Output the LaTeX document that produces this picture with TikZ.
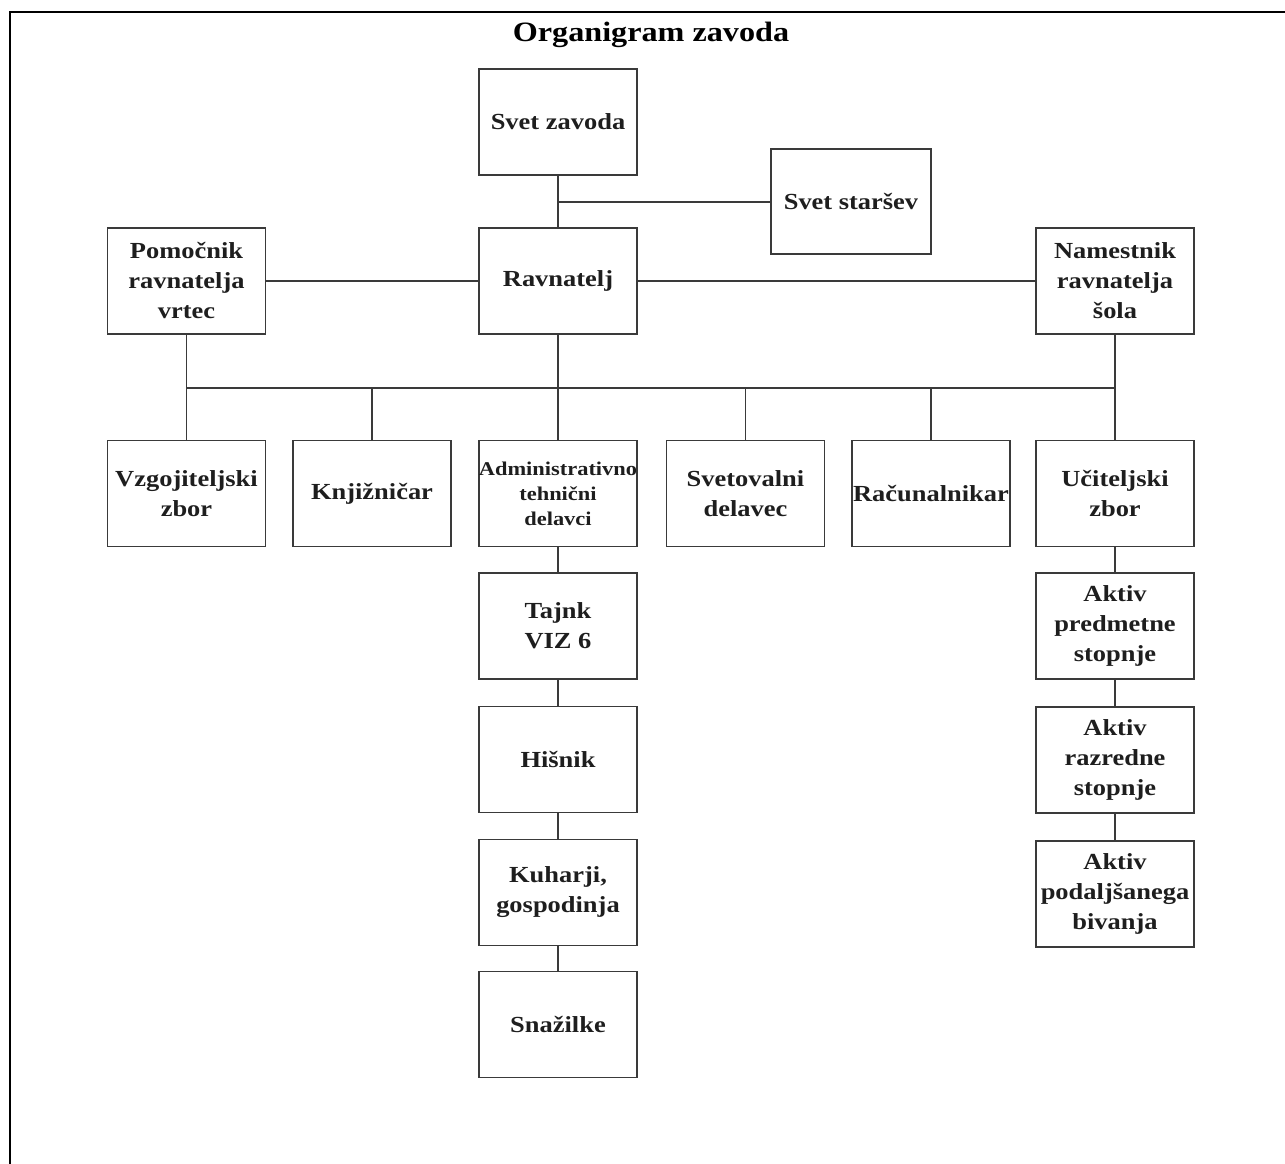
\documentclass[tikz,border=0pt]{standalone}
\usepackage{fontspec}
\setmainfont{Liberation Serif}[FakeStretch=1.15]
\definecolor{linec}{HTML}{3A3A3A}
\definecolor{textc}{HTML}{1E1E1E}
\tikzset{
  orgbox/.style={draw=linec, line width=1.6pt, minimum width=158pt, minimum height=106pt,
    inner sep=0pt, align=center, text=textc,
    font=\fontsize{23}{30}\selectfont\bfseries},
  smalltext/.style={font=\fontsize{19.5}{25}\selectfont\bfseries},
  conn/.style={draw=linec, line width=1.4pt},
  frame/.style={draw=black, line width=2.5pt}
}
\begin{document}
\begin{tikzpicture}[x=1pt,y=-1pt]
\useasboundingbox (0,0) rectangle (1285,1164);
\draw[frame] (10,1164) -- (10,12) -- (1285,12);
\node[anchor=base, text=black, font=\fontsize{28}{32}\selectfont\bfseries] (title) at (651,42) {Organigram zavoda};
% top
\node[orgbox] (sz) at (558,122) {Svet zavoda};
\node[orgbox, minimum width=160pt, minimum height=105pt] (ss) at (851,201.5) {Svet staršev};
\node[orgbox] (pom) at (186.5,281) {Pomočnik\\ravnatelja\\vrtec};
\node[orgbox] (rav) at (558,281) {Ravnatelj};
\node[orgbox] (nam) at (1115,281) {Namestnik\\ravnatelja\\šola};
% row
\node[orgbox] (vz) at (186.5,493.5) {Vzgojiteljski\\zbor};
\node[orgbox] (knj) at (372,493.5) {Knjižničar};
\node[orgbox, smalltext] (adm) at (558,493.5) {Administrativno\\tehnični\\delavci};
\node[orgbox] (svet) at (745.5,493.5) {Svetovalni\\delavec};
\node[orgbox] (rac) at (931,493.5) {Računalnikar};
\node[orgbox] (uc) at (1115,493.5) {Učiteljski\\zbor};
% admin column
\node[orgbox] (taj) at (558,626) {Tajnk\\VIZ 6};
\node[orgbox] (his) at (558,759.5) {Hišnik};
\node[orgbox] (kuh) at (558,892.5) {Kuharji,\\gospodinja};
\node[orgbox] (sna) at (558,1024.5) {Snažilke};
% teacher column
\node[orgbox] (apr) at (1115,626) {Aktiv\\predmetne\\stopnje};
\node[orgbox] (araz) at (1115,760) {Aktiv\\razredne\\stopnje};
\node[orgbox] (apod) at (1115,894) {Aktiv\\podaljšanega\\bivanja};
% connectors
\coordinate (j1) at (558,202);
\draw[conn] (sz) -- (rav);
\draw[conn] (j1) -- (ss.west |- j1);
\draw[conn] (pom) -- (rav);
\draw[conn] (rav) -- (nam);
\coordinate (bl) at (186.5,388);
\coordinate (br) at (1115,388);
\draw[conn] (bl) -- (br);
\draw[conn] (pom.south) -- (bl);
\draw[conn] (rav.south) -- (rav.south |- bl);
\draw[conn] (nam.south) -- (br);
\foreach \n in {vz,knj,adm,svet,rac,uc}{
  \draw[conn] (\n.north |- bl) -- (\n.north);
}
\draw[conn] (adm) -- (taj);
\draw[conn] (taj) -- (his);
\draw[conn] (his) -- (kuh);
\draw[conn] (kuh) -- (sna);
\draw[conn] (uc) -- (apr);
\draw[conn] (apr) -- (araz);
\draw[conn] (araz) -- (apod);
\end{tikzpicture}
\end{document}
